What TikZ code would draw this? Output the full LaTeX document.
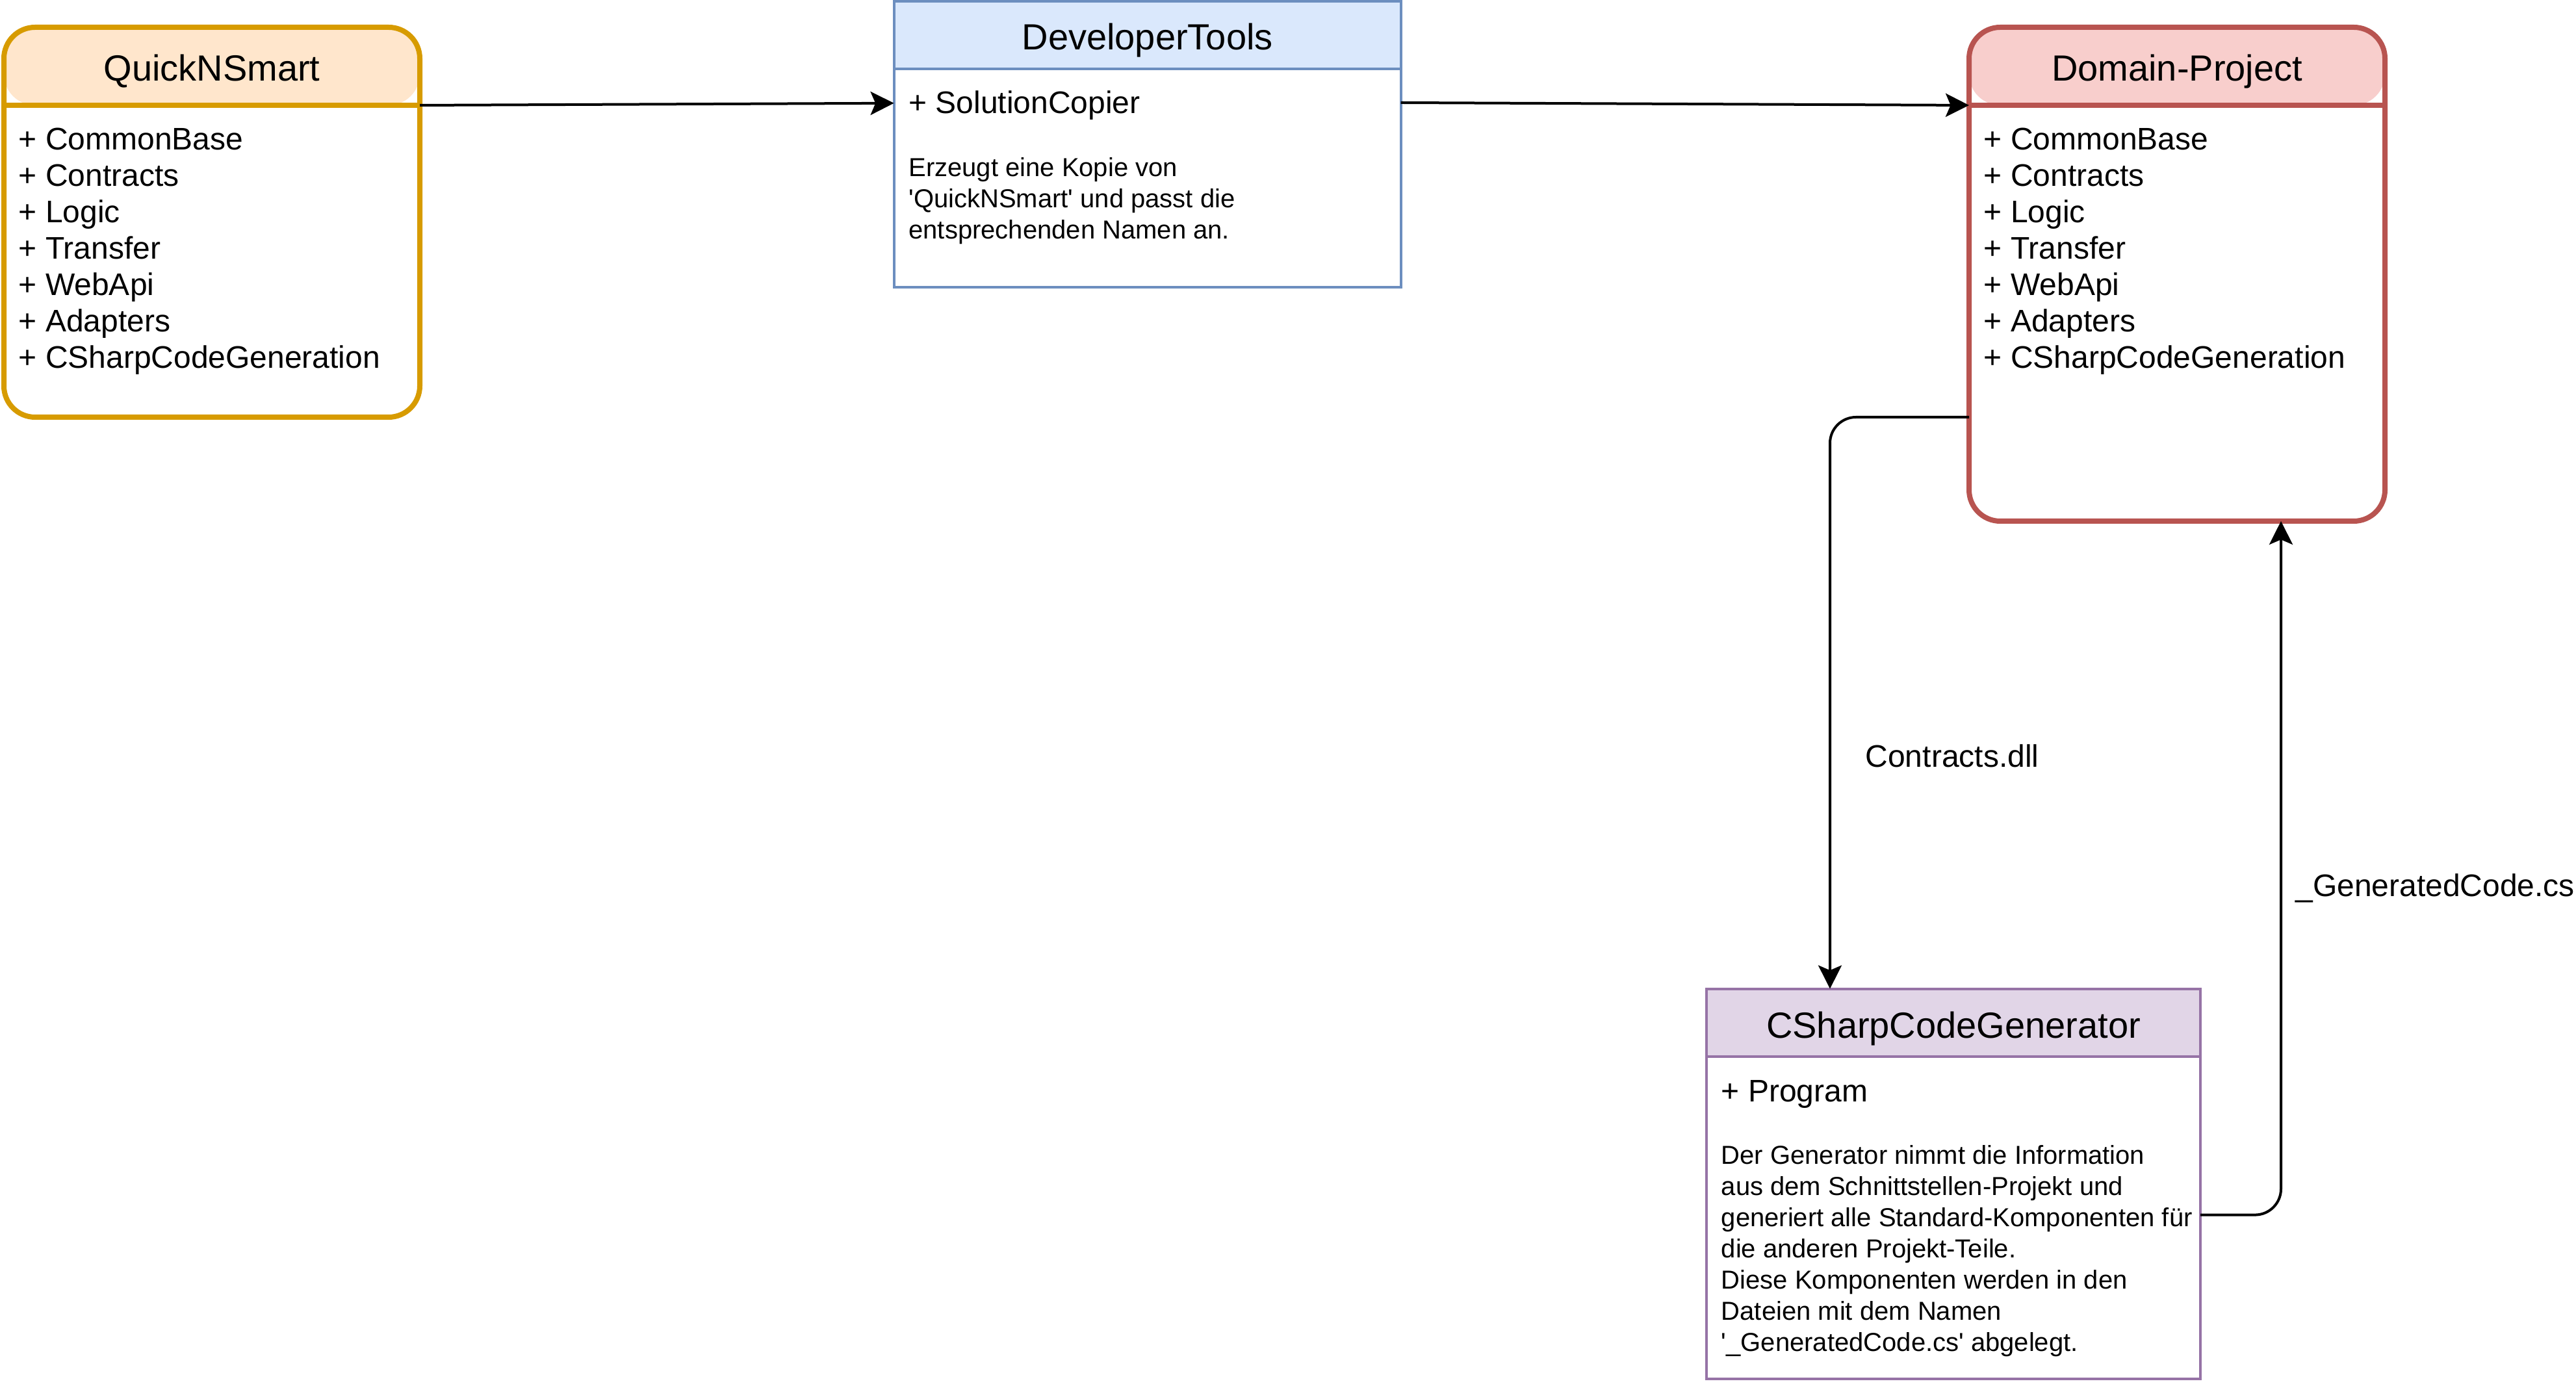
\documentclass[tikz,border=0pt]{standalone}
\usepackage{fontspec}
\setmainfont{Liberation Sans}
\usetikzlibrary{arrows.meta,calc}

\definecolor{orangeline}{HTML}{D79B00}
\definecolor{orangefill}{HTML}{FFE6CC}
\definecolor{blueline}{HTML}{6C8EBF}
\definecolor{bluefill}{HTML}{DAE8FC}
\definecolor{redline}{HTML}{B85450}
\definecolor{redfill}{HTML}{F8CECC}
\definecolor{violetline}{HTML}{9673A6}
\definecolor{violetfill}{HTML}{E1D5E7}

\begin{document}
\begin{tikzpicture}[x=1pt,y=-1pt,
    box/.style={rectangle,outer sep=0pt,inner sep=0pt,fill=white},
    head/.style 2 args={path picture={\fill[#1] (path picture bounding box.north west) rectangle ([yshift=-#2pt]path picture bounding box.north east);}},
    headtext/.style={inner sep=0pt,text height=10pt,text depth=0pt,font=\fontsize{14}{16.8}\selectfont},
    members/.style={anchor=north west,align=left,inner sep=0pt,font=\fontsize{12}{14}\selectfont},
    notes/.style={anchor=north west,align=left,inner sep=0pt,font=\fontsize{10}{12}\selectfont},
    tag/.style={inner sep=0pt,text height=8.6pt,text depth=0pt,font=\fontsize{12}{14.4}\selectfont},
    link/.style={line width=1pt,-{Stealth[length=9pt,width=9pt,inset=1.9pt]}}]
    \useasboundingbox (0,0) rectangle (991,534);

    \node[box,draw=orangeline,line width=2pt,rounded corners=12pt,head={orangefill}{30},minimum width=160pt,minimum height=150pt] (quick) at (81.5,85.5) {};
    \draw[orangeline,line width=2pt] ($(quick.north west)+(0,30)$) -- ($(quick.north east)+(0,30)$);
    \node[headtext] (quick-name) at ($(quick.north)+(0,15.7)$) {QuickNSmart};
    \node[members] (quick-list) at ($(quick.north west)+(5.5,38.5)$) {+ CommonBase\\+ Contracts\\+ Logic\\+ Transfer\\+ WebApi\\+ Adapters\\+ CSharpCodeGeneration};

    \node[box,draw=blueline,line width=1pt,head={bluefill}{26},minimum width=195pt,minimum height=110pt] (dev) at (441.4,55.5) {};
    \draw[blueline,line width=1pt] ($(dev.north west)+(0,26)$) -- ($(dev.north east)+(0,26)$);
    \node[headtext] (dev-name) at ($(dev.north)+(0,13.6)$) {DeveloperTools};
    \node[members] (dev-list) at ($(dev.north west)+(5.5,34.3)$) {+ SolutionCopier};
    \node[notes] (dev-note) at ($(dev.north west)+(5.5,59.9)$) {Erzeugt eine Kopie von\\\textquotesingle QuickNSmart\textquotesingle{} und passt die\\entsprechenden Namen an.};

    \node[box,draw=redline,line width=2pt,rounded corners=12pt,head={redfill}{30},minimum width=160pt,minimum height=190pt] (dom) at (837.5,105.5) {};
    \draw[redline,line width=2pt] ($(dom.north west)+(0,30)$) -- ($(dom.north east)+(0,30)$);
    \node[headtext] (dom-name) at ($(dom.north)+(0,15.7)$) {Domain-Project};
    \node[members] (dom-list) at ($(dom.north west)+(5.5,38.5)$) {+ CommonBase\\+ Contracts\\+ Logic\\+ Transfer\\+ WebApi\\+ Adapters\\+ CSharpCodeGeneration};

    \node[box,draw=violetline,line width=1pt,head={violetfill}{26},minimum width=190pt,minimum height=150pt] (gen) at (751.5,455.4) {};
    \draw[violetline,line width=1pt] ($(gen.north west)+(0,26)$) -- ($(gen.north east)+(0,26)$);
    \node[headtext] (gen-name) at ($(gen.north)+(0,13.9)$) {CSharpCodeGenerator};
    \node[members] (gen-list) at ($(gen.north west)+(5.5,34.9)$) {+ Program};
    \node[notes] (gen-note) at ($(gen.north west)+(5.5,60.1)$) {Der Generator nimmt die Information\\aus dem Schnittstellen-Projekt und\\generiert alle Standard-Komponenten für\\die anderen Projekt-Teile.\\Diese Komponenten werden in den\\Dateien mit dem Namen\\\textquotesingle\_GeneratedCode.cs\textquotesingle{} abgelegt.};

    \coordinate (quick-sep) at ($(quick.north east)+(0,30)$);
    \coordinate (dev-in) at ($(dev.north west)+(0,39.2)$);
    \coordinate (dev-out) at ($(dev.north east)+(0,39)$);
    \coordinate (dom-in) at ($(dom.north west)+(0,30)$);
    \coordinate (dom-exit) at ($(dom.north west)+(0,150)$);
    \coordinate (gen-top) at ($(gen.north west)+(47.5,0)$);
    \coordinate (gen-exit) at ($(gen.north east)+(0,87)$);
    \coordinate (dom-bottom) at ($(dom.south west)+(120,0)$);

    \draw[link] (quick-sep) -- (dev-in);
    \draw[link] (dev-out) -- (dom-in);
    \draw[link,rounded corners=10pt] (dom-exit) -| (gen-top);
    \draw[link,rounded corners=10pt] (gen-exit) -| (dom-bottom);

    \node[tag] (contracts) at (751,290.8) {Contracts.dll};
    \node[tag] (gencode) at (936.8,340.6) {\_GeneratedCode.cs};
\end{tikzpicture}
\end{document}
